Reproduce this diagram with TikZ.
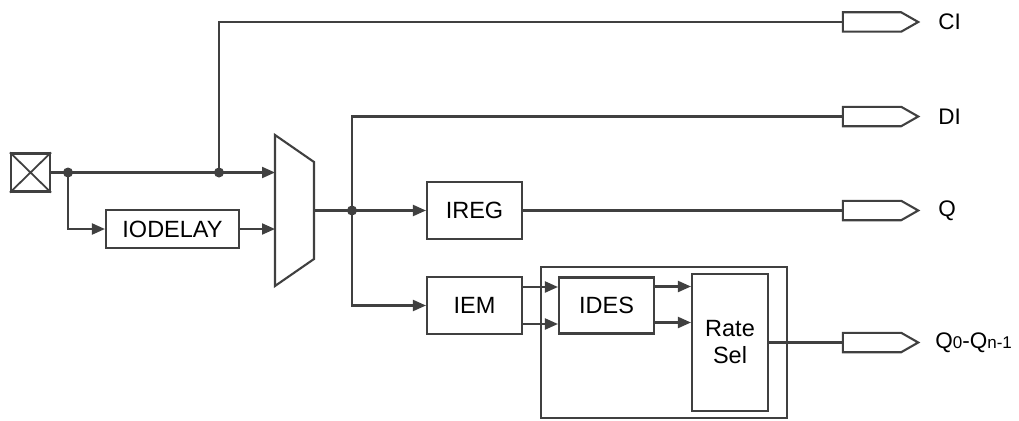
\documentclass[tikz,border=0pt]{standalone}
\usepackage{fontspec}
\setmainfont{Liberation Sans}
\usetikzlibrary{arrows.meta,positioning}
\usepackage{xcolor}
\definecolor{wire}{RGB}{64, 64, 64}

\tikzset{
    wirel/.style={draw=wire, line width=2.1pt},
    arr/.style={wirel, -{Triangle[length=13pt, width=11pt]}},
    blk/.style={
            draw=wire,
            line width=2.1pt,
            minimum width=95pt,
            minimum height=57pt,
            inner sep=0pt,
            align=center,
            font=\fontsize{23.5}{27}\selectfont
        },
    port/.style={
            minimum width=75pt,
            minimum height=19pt,
            inner sep=0pt
        },
    lbl/.style={anchor=west, inner sep=0pt, font=\fontsize{22.5}{26}\selectfont},
    jdot/.style={circle, fill=wire, inner sep=0pt, minimum size=10pt}
}

\begin{document}
\begin{tikzpicture}[x=1pt, y=-1pt, node distance=20pt]
            \useasboundingbox (0,0) rectangle (1019,420);

            % group box behind IDES and Rate Sel
            \node (grp) [draw=wire, line width=2.1pt, minimum width=246pt, minimum height=151pt] at (664,342.5) {};

            % input pad
            \node (pad) [draw=wire, line width=2.1pt, minimum width=39pt, minimum height=38pt, inner sep=0pt] at (30.5,172.5) {};
            \draw[wirel, line width=1.8pt] (pad.north west) -- (pad.south east) (pad.north east) -- (pad.south west);

            \coordinate (j1) at (68,172.5);
            \coordinate (j2) at (219,172.5);

            % mux
            \coordinate (mux1) at (275,135);
            \coordinate (mux2) at (314,162);
            \coordinate (mux3) at (314,259);
            \coordinate (mux4) at (275,286);
            \draw[wirel, line join=miter] (mux1) -- (mux2) -- (mux3) -- (mux4) -- cycle;
            \coordinate (muxa) at (275,172.5);
            \coordinate (muxb) at (275,229);
            \coordinate (muxo) at (314,210.5);
            \coordinate (j3) at (352,210.5);

            \node (iodelay) [blk, minimum width=133pt, minimum height=38pt] at (172.5,229) {IODELAY};
            \node (ireg) [blk] at (474.5,210.5) {IREG};
            \node (iem) [blk] at (474.5,305.5) {IEM};
            \node (ides) [blk, minimum height=56pt] at (606.5,305.5) {IDES};
            \node (rate) [blk, minimum width=76pt, minimum height=137pt] at (730,342.5) {Rate\\Sel};

            % output ports
            \node (ci) [port] at (880.5,22) {};
            \node (di) [port] at (880.5,116.5) {};
            \node (q) [port] at (880.5,210.5) {};
            \node (qn) [port] at (880.5,342.5) {};
            \foreach \p in {ci,di,q,qn}
                \draw[wirel, line join=miter] (\p.north west) -- ([xshift=-17pt]\p.north east) -- (\p.east)
                    -- ([xshift=-17pt]\p.south east) -- (\p.south west) -- cycle;
            \node (cil) [lbl, right=of ci] {CI};
            \node (dil) [lbl, right=of di] {DI};
            \node (ql) [lbl, right=of q] {Q};
            \node (qnl) [lbl, right=17pt of qn] {Q{\fontsize{17}{20}\selectfont 0}-Q{\fontsize{17}{20}\selectfont n-1}};

            % wires
            \draw[wirel] (pad) -- (j1);
            \draw[arr] (j1) -- (muxa);
            \draw[arr] (j1) |- (iodelay);
            \draw[arr] (iodelay) -- (muxb);
            \draw[wirel] (j2) |- (ci.west);
            \draw[wirel] (muxo) -- (j3);
            \draw[arr] (j3) -- (ireg);
            \draw[wirel] (j3) |- (di.west);
            \draw[arr] (j3) |- (iem);
            \draw[wirel] (ireg) -- (q.west);
            \draw[arr] ([yshift=18.5pt]iem.east) -- ([yshift=18.5pt]iem.east -| ides.west);
            \draw[arr] ([yshift=-18.5pt]iem.east) -- ([yshift=-18.5pt]iem.east -| ides.west);
            \draw[arr] ([yshift=19pt]ides.east) -- ([yshift=19pt]ides.east -| rate.west);
            \draw[arr] ([yshift=-17pt]ides.east) -- ([yshift=-17pt]ides.east -| rate.west);
            \draw[wirel] (rate) -- (qn.west);

            \node[jdot] at (j1) {};
            \node[jdot] at (j2) {};
            \node[jdot] at (j3) {};
        \end{tikzpicture}
\end{document}
